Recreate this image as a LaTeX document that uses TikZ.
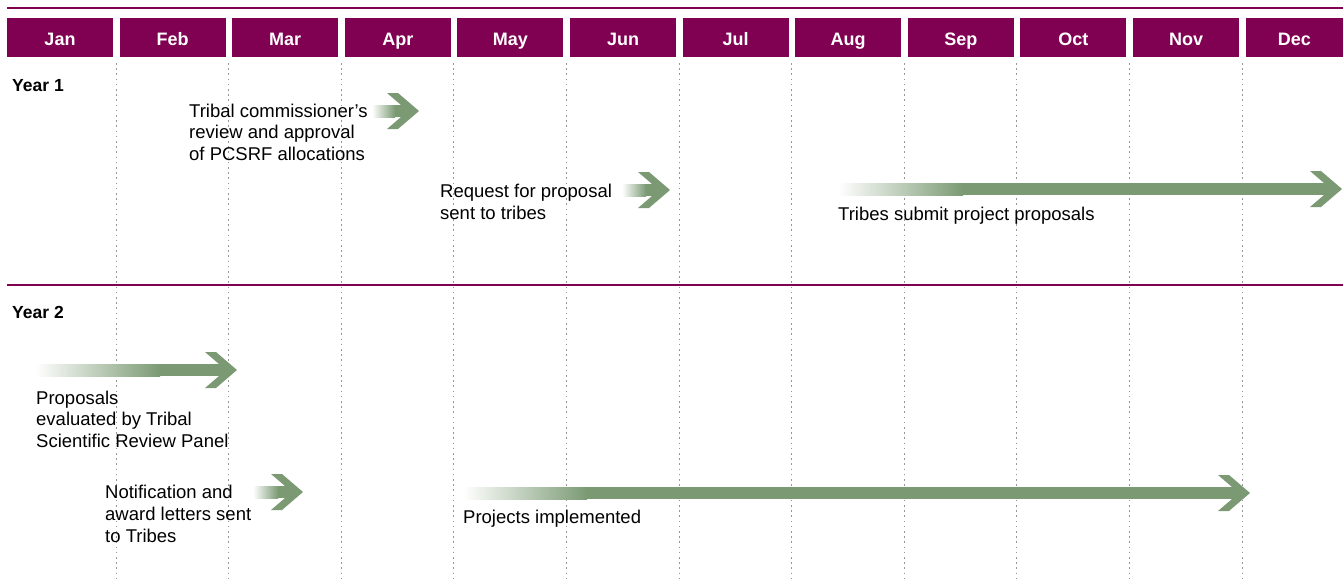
\documentclass[tikz,border=0pt]{standalone}
\usepackage{fontspec}
\setmainfont{Liberation Sans}
\definecolor{plum}{RGB}{128,0,82}
\definecolor{sage}{RGB}{123,154,116}
\definecolor{gridgray}{RGB}{150,150,150}
\newcommand{\sagearrow}[5]{%
  % #1 name, #2 start x, #3 gradient end x, #4 tip x, #5 centre y
  \coordinate (#1-start) at (#2,#5);
  \coordinate (#1-tip) at (#4,#5);
  \shade[left color=white, right color=sage] (#2,#5-6) rectangle (#3,#5+6);
  \fill[sage] (#3-0.3,#5-6) rectangle (#4-11,#5+6);
  \fill[sage] (#4-32,#5-18) -- (#4-21,#5-18) -- (#1-tip) -- (#4-21,#5+18)
     -- (#4-32,#5+18) -- (#4-11,#5) -- cycle;
}
\tikzset{
  monthbox/.style={fill=plum, text=white, font=\fontsize{18}{21}\selectfont\bfseries,
    minimum height=39pt, inner sep=0pt, text height=17pt, text depth=0pt},
  yearlabel/.style={anchor=base west, inner sep=0pt, font=\fontsize{17.5}{21}\selectfont\bfseries},
  label/.style={anchor=base west, inner sep=0pt, align=left,
    font=\fontsize{18.5}{21.5}\selectfont},
  rule/.style={draw=plum, line width=2.2pt},
  grid/.style={draw=gridgray, line width=0.8pt, dash pattern=on 1.6pt off 3.6pt},
}
\begin{document}
\begin{tikzpicture}[x=1pt,y=-1pt]
\useasboundingbox (0,0) rectangle (1343,578);
% dotted month separators
\foreach \i in {0,...,10} {
  \draw[grid] ({116+112.6*\i},63) -- ({116+112.6*\i},578);
}
% rules
\coordinate (topL) at (7,8);
\coordinate (topR) at (1343,8);
\draw[rule] (topL) -- (topR);
\coordinate (divL) at (7,285);
\coordinate (divR) at (1343,285);
\draw[rule] (divL) -- (divR);
% month boxes
\foreach \m [count=\k from 0] in {Jan,Feb,Mar,Apr,May,Jun,Jul,Aug,Sep,Oct,Nov} {
  \node[monthbox, minimum width=106pt] (m\k) at ({60+112.6*\k},37.5) {\m};
}
\node[monthbox, minimum width=97.4pt] (m11) at (1294.3,37.5) {Dec};
% year labels
\node[yearlabel] (year1) at (12,92) {Year 1};
\node[yearlabel] (year2) at (12,318) {Year 2};
% arrows
\sagearrow{tribal}{372}{395}{419}{111}
\sagearrow{request}{622}{646}{670}{190}
\sagearrow{submit}{838}{963}{1342}{189}
\sagearrow{evaluate}{35}{160}{237}{370}
\sagearrow{notify}{253}{278}{303}{492}
\sagearrow{implement}{463}{587}{1250}{493}
% texts (base anchor = baseline of the last line)
\node[label] (tribaltext) at (189,160) {Tribal commissioner's\\review and approval\\of PCSRF allocations};
\node[label] (requesttext) at (440,219) {Request for proposal\\sent to tribes};
\node[label] (submittext) at (838,220) {Tribes submit project proposals};
\node[label] (evaltext) at (36,447) {Proposals\\evaluated by Tribal\\Scientific Review Panel};
\node[label, font=\fontsize{18.5}{22}\selectfont] (notifytext) at (105,542) {Notification and\\award letters sent\\to Tribes};
\node[label] (impltext) at (463,523) {Projects implemented};
\end{tikzpicture}
\end{document}
